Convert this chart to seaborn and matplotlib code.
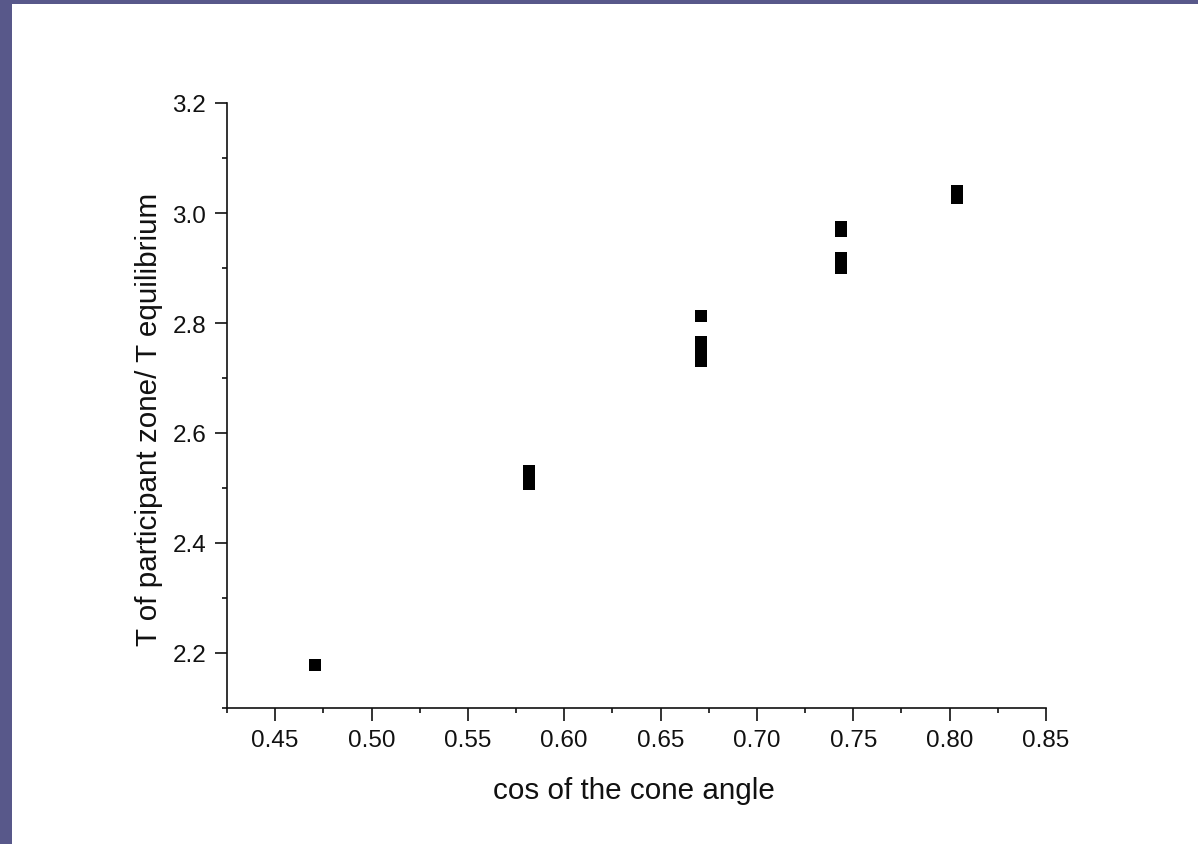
import matplotlib
matplotlib.use("Agg")
import matplotlib.pyplot as plt
from matplotlib.patches import Rectangle
from matplotlib.ticker import MultipleLocator, FormatStrFormatter
import seaborn as sns
import pandas as pd

# Measured temperature ratio against the cosine of the cone angle
cos_angle = [0.4706, 0.5817, 0.5817, 0.5817, 0.6708, 0.6708, 0.6708, 0.6708,
             0.7435, 0.7435, 0.7435, 0.7435, 0.8038, 0.8038]
t_ratio = [2.178, 2.507, 2.519, 2.531, 2.731, 2.748, 2.765, 2.813,
           2.900, 2.919, 2.967, 2.975, 3.027, 3.040]

x_label = "cos of the cone angle"
y_label = "T of participant zone/ T equilibrium"

sns.set_theme(style="ticks")
plt.rcParams["font.family"] = ["Liberation Sans", "DejaVu Sans"]

W, H = 1198, 845
fig = plt.figure(figsize=(W / 100, H / 100), dpi=100)
fig.patch.set_facecolor("#58588a")
# white slide area
fig.patches.append(Rectangle((12 / W, 0), 1, (H - 5) / H, transform=fig.transFigure,
                             facecolor="white", edgecolor="none", zorder=-1))

ax = fig.add_axes([227 / W, (H - 709) / H, (1046 - 227) / W, (709 - 104) / H])
ax.set_facecolor("none")

df = pd.DataFrame({"x": cos_angle, "y": t_ratio})
sns.scatterplot(data=df, x="x", y="y", marker="s", color="black", s=74,
                linewidth=0, ax=ax, legend=False)

ax.set_xlim(0.425, 0.85)
ax.set_ylim(2.1, 3.2)
ax.xaxis.set_major_locator(MultipleLocator(0.05))
ax.xaxis.set_minor_locator(MultipleLocator(0.025))
ax.yaxis.set_major_locator(MultipleLocator(0.2))
ax.yaxis.set_minor_locator(MultipleLocator(0.1))
ax.xaxis.set_major_formatter(FormatStrFormatter("%.2f"))
ax.yaxis.set_major_formatter(FormatStrFormatter("%.1f"))

for side in ("top", "right"):
    ax.spines[side].set_visible(False)
for side in ("left", "bottom"):
    ax.spines[side].set_linewidth(1.2)
    ax.spines[side].set_color("#111111")

ax.tick_params(which="major", direction="out", length=9, width=1.2,
               labelsize=17.5, pad=6, color="#111111", labelcolor="#111111")
ax.tick_params(which="minor", direction="out", length=3.8, width=1.2,
               color="#111111")

ax.set_xlabel(x_label, fontsize=21.3, color="#111111")
ax.set_ylabel(y_label, fontsize=21.3, color="#111111")
ax.xaxis.set_label_coords(0.497, -0.112)
ax.yaxis.set_label_coords(-0.078, 0.478)

fig.savefig("out.png", dpi=100, facecolor=fig.get_facecolor())
